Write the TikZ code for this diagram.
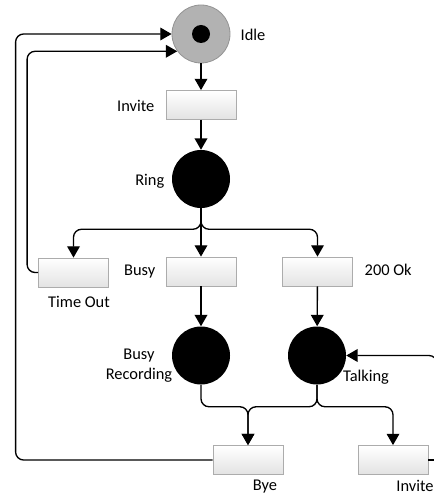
\documentclass[tikz,border=0pt]{standalone}
\usepackage{fontspec}
\setmainfont{Carlito}
\usetikzlibrary{arrows.meta,calc}
\begin{document}
\begin{tikzpicture}[x=0.75pt,y=-0.75pt,
  every node/.style={font=\fontsize{12.3}{14.8}\selectfont},
  trans/.style={draw=gray!65, line width=0.6pt, top color=white, bottom color=gray!22,
    minimum width=52.5pt, minimum height=21.75pt, inner sep=0pt},
  place/.style={circle, fill=black, minimum size=43.5pt, inner sep=0pt},
  arc/.style={draw=black, line width=1pt, rounded corners=6pt,
    -{Triangle[length=8.5pt,width=9.5pt]}},
  wire/.style={draw=black, line width=1pt, rounded corners=6pt}
]
\useasboundingbox (0,0) rectangle (434,495);
\clip (0,0) rectangle (434,495);

% places and transitions
\node[place, fill=gray!60, draw=gray!85, line width=0.6pt] (idle) at (201,34) {};
\node[circle, fill=black, minimum size=13.5pt, inner sep=0pt] (tok) at (idle.center) {};
\node (idlel) at (253,35) {Idle};

\node[trans] (inv) at (201,105) {};
\node[anchor=east] (invl) at (159,106) {Invite};

\node[place] (ring) at (201,179) {};
\node[anchor=east] (ringl) at (169,181) {Ring};

\node[trans] (tout) at (73.5,272.5) {};
\node (toutl) at (79,302) {Time Out};

\node[trans] (busy) at (201,271.5) {};
\node[anchor=east] (busyl) at (160,272) {Busy};

\node[trans] (ok) at (317.5,271.5) {};
\node[anchor=west] (okl) at (360,270) {200 Ok};

\node[place] (brec) at (201,355.5) {};
\node[align=center] (brecl) at (139,366) {Busy\\Recording};

\node[place] (talk) at (317,355.5) {};
\node (talkl) at (366,377) {Talking};

\node[trans] (bye) at (248,460) {};
\node (byel) at (265,487) {Bye};

\node[trans] (inv2) at (393,460) {};
\node (inv2l) at (415,486) {Invite};

\coordinate (ext) at (437,385);
\coordinate (extr) at (445,460);

% arcs
\draw[arc] (idle) -- (inv);
\draw[arc] (inv) -- (ring);
\draw[arc] (ring.south) -- ++(0,21) -| (tout.north);
\draw[arc] (ring) -- (busy);
\draw[arc] (ring.south) -- ++(0,21) -| (ok.north);
\draw[arc] (busy) -- (brec);
\draw[arc] (ok) -- (talk);
\draw[arc] (brec.south) -- ++(0,22) -| (bye.north);
\draw[arc] (talk.south) -- ++(0,22) -| (bye.north);
\draw[arc] (talk.south) -- ++(0,22) -| (inv2.north);
\draw[arc] (tout.west) -- ++(-11,0) |- (idle.216);
\draw[arc] (bye.west) -| ($(idle.west)-(156,0)$) -- (idle.west);
\draw[arc] (ext) |- (talk.east);
\draw[wire] (inv2.east) -- (extr);
\end{tikzpicture}
\end{document}
